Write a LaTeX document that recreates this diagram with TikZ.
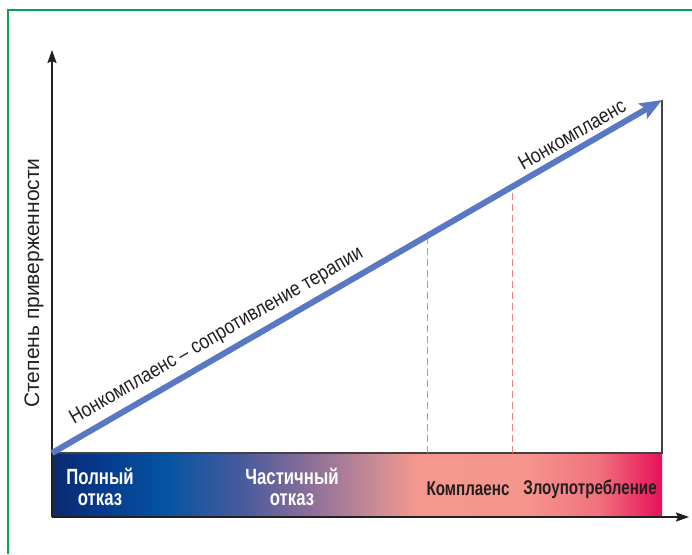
\documentclass[tikz,border=0pt]{standalone}
\usepackage{fontspec}
\setmainfont{Liberation Sans}
\newfontfamily\condfont[FakeStretch=0.76]{Liberation Sans}
\newfontfamily\semifont[FakeStretch=0.86]{Liberation Sans}
\usetikzlibrary{arrows.meta}
\definecolor{frameg}{HTML}{00A651}
\definecolor{trendblue}{HTML}{5878C4}
\definecolor{dashred}{HTML}{EE7C80}
\definecolor{axisk}{HTML}{231F20}
\definecolor{c0}{HTML}{0B2A6E}
\definecolor{c1}{HTML}{06388A}
\definecolor{c2}{HTML}{0454A2}
\definecolor{c3}{HTML}{4A5B9C}
\definecolor{c4}{HTML}{8C6F99}
\definecolor{c5}{HTML}{C98B96}
\definecolor{c6}{HTML}{F4978E}
\definecolor{c7}{HTML}{F5968E}
\definecolor{c8}{HTML}{F0707C}
\definecolor{c9}{HTML}{E8105A}
\tikzset{
  greenframe/.style={draw=frameg, line width=1.6pt},
  axisline/.style={draw=axisk, line width=2pt, -{Stealth[length=13pt,width=9pt,inset=2pt]}},
  boxline/.style={draw=axisk!85, line width=1.3pt},
  trendline/.style={draw=trendblue, line width=6pt, -{Stealth[length=22pt,width=17pt,inset=4pt]}},
  dashline/.style={draw=dashred, line width=1pt, dash pattern=on 7pt off 4pt},
  barlabel/.style={font=\condfont\bfseries\fontsize{22}{21}\selectfont, align=center, text=white, inner sep=0pt},
  barlabelk/.style={font=\condfont\bfseries\fontsize{20}{20}\selectfont, text=axisk, inner sep=0pt},
  slopelabel/.style={font=\semifont\fontsize{20.5}{20.5}\selectfont, text=axisk, inner sep=0pt},
  ylabel/.style={font=\fontsize{21}{21}\selectfont, text=axisk, inner sep=0pt},
}
\begin{document}
\begin{tikzpicture}[x=1pt,y=-1pt]
\useasboundingbox (0,0) rectangle (692,554);
\fill[white] (0,0) rectangle (692,554);
\draw[greenframe] (692,10) -- (8,10) -- (8,554);
% gradient bar
\shade[left color=c0, right color=c1] (52,453) rectangle (96,517);
\shade[left color=c1, right color=c2] (95.5,453) rectangle (166,517);
\shade[left color=c2, right color=c3] (165.5,453) rectangle (245,517);
\shade[left color=c3, right color=c4] (244.5,453) rectangle (310,517);
\shade[left color=c4, right color=c5] (309.5,453) rectangle (375,517);
\shade[left color=c5, right color=c6] (374.5,453) rectangle (415,517);
\shade[left color=c6, right color=c7] (414.5,453) rectangle (525,517);
\shade[left color=c7, right color=c8] (524.5,453) rectangle (600,517);
\shade[left color=c8, right color=c9] (599.5,453) rectangle (662,517);
% coordinates
\coordinate (o) at (52,517);
\coordinate (ytop) at (52,50);
\coordinate (xend) at (689,517);
\coordinate (bl) at (52,453);
\coordinate (br) at (662,453);
\coordinate (tr) at (662,100);
\coordinate (d1b) at (427,453);
\coordinate (d1t) at (427,236);
\coordinate (d2b) at (512,453);
\coordinate (d2t) at (512,187);
% box
\draw[boxline] (bl) -- (br) -- (tr);
% dashed lines
\draw[dashline] (d1b) -- (d1t);
\draw[dashline] (d2b) -- (d2t);
% axes
\draw[axisline] (o) -- (ytop);
\draw[axisline] (o) -- (xend);
% trend
\draw[trendline] (bl) -- (tr);
\path (bl) -- (tr)
  node[pos=0.285, sloped, above=9pt, slopelabel] (l1) {Нонкомплаенс – сопротивление терапии}
  node[pos=0.865, sloped, above=8pt, slopelabel] (l2) {Нонкомплаенс};
% y label
\node[ylabel, rotate=90] (ylab) at (34,283) {Степень приверженности};
% bar labels
\node[barlabel] (n1) at (100,487) {Полный\\отказ};
\node[barlabel] (n2) at (292,487) {Частичный\\отказ};
\node[barlabelk] (n3) at (468,489) {Комплаенс};
\node[barlabelk] (n4) at (590,489) {Злоупотребление};
\end{tikzpicture}
\end{document}
